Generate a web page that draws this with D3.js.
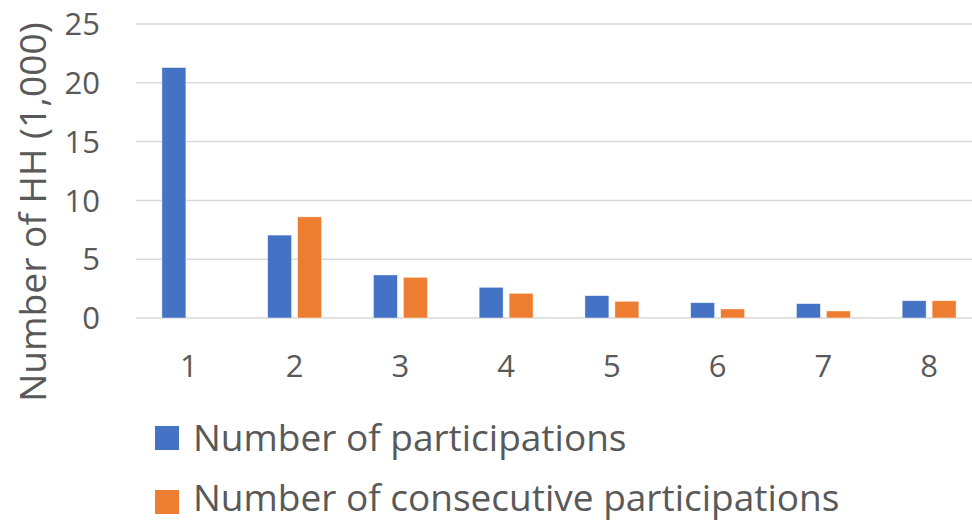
<!DOCTYPE html>
<html>
<head>
<meta charset="utf-8">
<script src="https://cdn.jsdelivr.net/npm/d3@7"></script>
<style>
  html, body { margin: 0; padding: 0; background: #ffffff; }
  svg { display: block; }
  text { font-family: "Open Sans", "Noto Sans", sans-serif; fill: #595959; }
</style>
</head>
<body>
<svg id="chart" width="972" height="523"></svg>
<script>
// Participation counts per household (thousands)
const categories = ["1", "2", "3", "4", "5", "6", "7", "8"];
const seriesNames = ["Number of participations", "Number of consecutive participations"];
const participations = [21.3, 7.05, 3.66, 2.61, 1.9, 1.3, 1.22, 1.47];
const consecutive = [0, 8.6, 3.46, 2.1, 1.42, 0.77, 0.6, 1.47];
const yTicks = [0, 5, 10, 15, 20, 25];
const seriesColors = ["#4472C4", "#ED7D31"];
const yTitle = "Number of HH (1,000)";

const seriesValues = [participations, consecutive];
const rows = categories.map((c, i) => ({
  cat: c,
  vals: seriesNames.map((s, j) => ({ series: s, value: seriesValues[j][i], color: seriesColors[j] }))
}));

const svg = d3.select("#chart");

const plot = { left: 136, right: 982, top: 24, bottom: 318 };

const x0 = d3.scaleBand().domain(categories).range([plot.left, plot.right]).paddingInner(0).paddingOuter(0);
const bw = x0.bandwidth();
const x1 = d3.scaleBand().domain(seriesNames).range([bw * 0.245, bw * 0.755]).paddingInner(0.2);
const y = d3.scaleLinear().domain([0, 25]).range([plot.bottom, plot.top]);

// Horizontal gridlines
svg.append("g")
  .selectAll("line")
  .data(yTicks)
  .join("line")
  .attr("x1", plot.left)
  .attr("x2", plot.right)
  .attr("y1", d => y(d))
  .attr("y2", d => y(d))
  .attr("stroke", "#d9d9d9")
  .attr("stroke-width", 1.5);

// Y tick labels
svg.append("g")
  .selectAll("text")
  .data(yTicks)
  .join("text")
  .attr("x", 100)
  .attr("y", d => y(d))
  .attr("dy", "0.36em")
  .attr("text-anchor", "end")
  .style("font-size", "31px")
  .text(d => d);

// Bars
const groups = svg.append("g")
  .selectAll("g")
  .data(rows)
  .join("g")
  .attr("transform", d => `translate(${x0(d.cat)},0)`);

groups.selectAll("rect")
  .data(d => d.vals)
  .join("rect")
  .attr("x", d => x1(d.series))
  .attr("width", x1.bandwidth())
  .attr("y", d => y(d.value))
  .attr("height", d => y(0) - y(d.value))
  .attr("fill", d => d.color)
  .attr("stroke", "#ffffff")
  .attr("stroke-opacity", 0.6)
  .attr("stroke-width", 0.75);

// Category labels
svg.append("g")
  .selectAll("text")
  .data(categories)
  .join("text")
  .attr("x", d => x0(d) + bw / 2)
  .attr("y", 377)
  .attr("text-anchor", "middle")
  .style("font-size", "31px")
  .text(d => d);

// Y axis title
svg.append("text")
  .attr("transform", "translate(46,212) rotate(-90)")
  .attr("text-anchor", "middle")
  .style("font-size", "37.2px")
  .text(yTitle);

// Legend
const legend = svg.append("g")
  .selectAll("g")
  .data(seriesNames)
  .join("g");

legend.append("rect")
  .attr("x", 155)
  .attr("y", (d, i) => 426 + i * 64)
  .attr("width", 24)
  .attr("height", 24)
  .attr("fill", (d, i) => seriesColors[i]);

legend.append("text")
  .attr("x", 193)
  .attr("y", (d, i) => 451 + i * 60)
  .style("font-size", "37px")
  .text(d => d);
</script>
</body>
</html>
